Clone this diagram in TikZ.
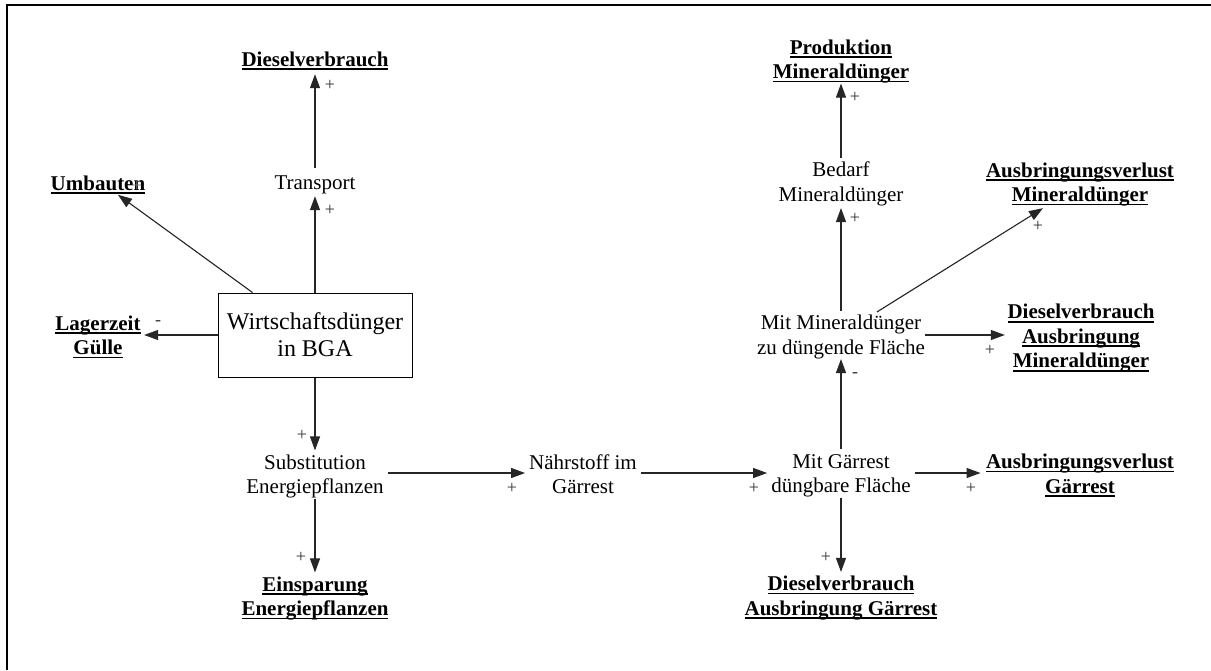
\documentclass[tikz,border=0pt]{standalone}
\usepackage{fontspec}
\setmainfont{Liberation Serif}
\usetikzlibrary{arrows.meta,calc}
\newcommand{\sr}{\rule[-4.6pt]{0pt}{23.2pt}}
\newsavebox{\ulbox}
\newcommand{\myul}[1]{\sbox{\ulbox}{#1}\rlap{\rule[-3.6pt]{\wd\ulbox}{1.6pt}}\usebox{\ulbox}}
\newcommand{\bu}[1]{\sr\myul{\textbf{#1}}}
\begin{document}
\begin{tikzpicture}[x=1pt,y=-1pt,
  lbl/.style={inner sep=0pt, align=center, font=\fontsize{21}{24.5}\selectfont},
  sgn/.style={inner sep=0pt, text=black!80, font=\fontsize{18}{18}\selectfont},
  arr/.style={-{Triangle[length=14pt,width=10pt]}, line width=1.1pt, draw=black!85, fill=black!85},
  boxnode/.style={draw, line width=1pt, minimum width=194pt, minimum height=84pt, inner sep=0pt, align=center, font=\fontsize{24}{27}\selectfont}]
\useasboundingbox (0,0) rectangle (1211,670);
\fill[white] (0,0) rectangle (1211,670);
\draw[line width=2pt, line join=miter] (6.8,670) -- (6.8,5) -- (1211,5);

\node[lbl] (diesel) at (315,59) {\bu{Dieselverbrauch}};
\node[lbl] (transport) at (315,182) {\sr Transport};
\node[lbl] (umb) at (98,183) {\bu{Umbauten}};
\node[lbl] (lager) at (98,335.5) {\bu{Lagerzeit}\\\bu{Gülle}};
\node[boxnode] (box) at (315,335) {Wirtschaftsdünger\\in BGA};
\node[lbl] (subst) at (315,474.5) {\sr Substitution\\\sr Energiepflanzen};
\node[lbl] (naehr) at (583,474.5) {\sr Nährstoff im\\\sr Gärrest};
\node[lbl] (mitg) at (841,473.5) {\sr Mit Gärrest\\\sr düngbare Fläche};
\node[lbl] (ausg) at (1080,474) {\bu{Ausbringungsverlust}\\\bu{Gärrest}};
\node[lbl] (einsp) at (315,596.5) {\bu{Einsparung}\\\bu{Energiepflanzen}};
\node[lbl] (dieselg) at (841,596) {\bu{Dieselverbrauch}\\\bu{Ausbringung Gärrest}};
\node[lbl] (mitm) at (841,335) {\sr Mit Mineraldünger\\\sr zu düngende Fläche};
\node[lbl] (dieselm) at (1081,336.5) {\bu{Dieselverbrauch}\\\bu{Ausbringung}\\\bu{Mineraldünger}};
\node[lbl] (bedarf) at (841,182) {\sr Bedarf\\\sr Mineraldünger};
\node[lbl] (prod) at (841,59.5) {\bu{Produktion}\\\bu{Mineraldünger}};
\node[lbl] (ausm) at (1080,182.5) {\bu{Ausbringungsverlust}\\\bu{Mineraldünger}};

\draw[arr, shorten <=2.4pt, shorten >=3.4pt] (transport.north) -- (diesel.south);
\draw[arr, shorten >=2.4pt] (box.north) -- (transport.south);
\draw[arr] ($(box.north west)+(35,0)$) -- ($(umb.south)+(20,0)$);
\draw[arr] (box.west) -- ($(box.west -| lager.east)+(3.4,0)$);
\draw[arr] (box.south) -- (subst.north);
\draw[arr, shorten <=4.2pt, shorten >=4pt] ([yshift=1.5pt]subst.east) -- ([yshift=1.5pt]subst.east -| naehr.west);
\draw[arr, shorten <=4pt, shorten >=4pt] ([yshift=1.5pt]naehr.east) -- ([yshift=1.5pt]naehr.east -| mitg.west);
\draw[arr, shorten <=4pt, shorten >=5.3pt] ([yshift=0.5pt]mitg.east) -- ([yshift=0.5pt]mitg.east -| ausg.west);
\draw[arr] (subst.south) -- (einsp.north);
\draw[arr] (mitg.south) -- (dieselg.north);
\draw[arr] (mitg.north) -- (mitm.south);
\draw[arr, shorten >=2pt] (mitm.north) -- (bedarf.south);
\draw[arr] (bedarf.north) -- (prod.south);
\draw[arr, shorten >=2.5pt] (mitm.east) -- (mitm.east -| dieselm.west);
\draw[arr] ($(mitm.north)+(36,1)$) -- ($(ausm.south)+(-37,1.6)$);

\node[sgn] (s1) at (330,85) {+};
\node[sgn] (s2) at (330,210) {+};
\node[sgn, text=black!50] (s3) at (137,186) {+};
\node[sgn] (s4) at (158,323) {-};
\node[sgn] (s5) at (302,435) {+};
\node[sgn] (s6) at (512,488) {+};
\node[sgn] (s7) at (754,488) {+};
\node[sgn] (s8) at (971,488) {+};
\node[sgn] (s9) at (301,557) {+};
\node[sgn] (s10) at (826,557) {+};
\node[sgn] (s11) at (855,375) {-};
\node[sgn] (s12) at (990,350) {+};
\node[sgn] (s13) at (855,218) {+};
\node[sgn] (s14) at (855,97) {+};
\node[sgn] (s15) at (1038,226) {+};
\end{tikzpicture}
\end{document}
